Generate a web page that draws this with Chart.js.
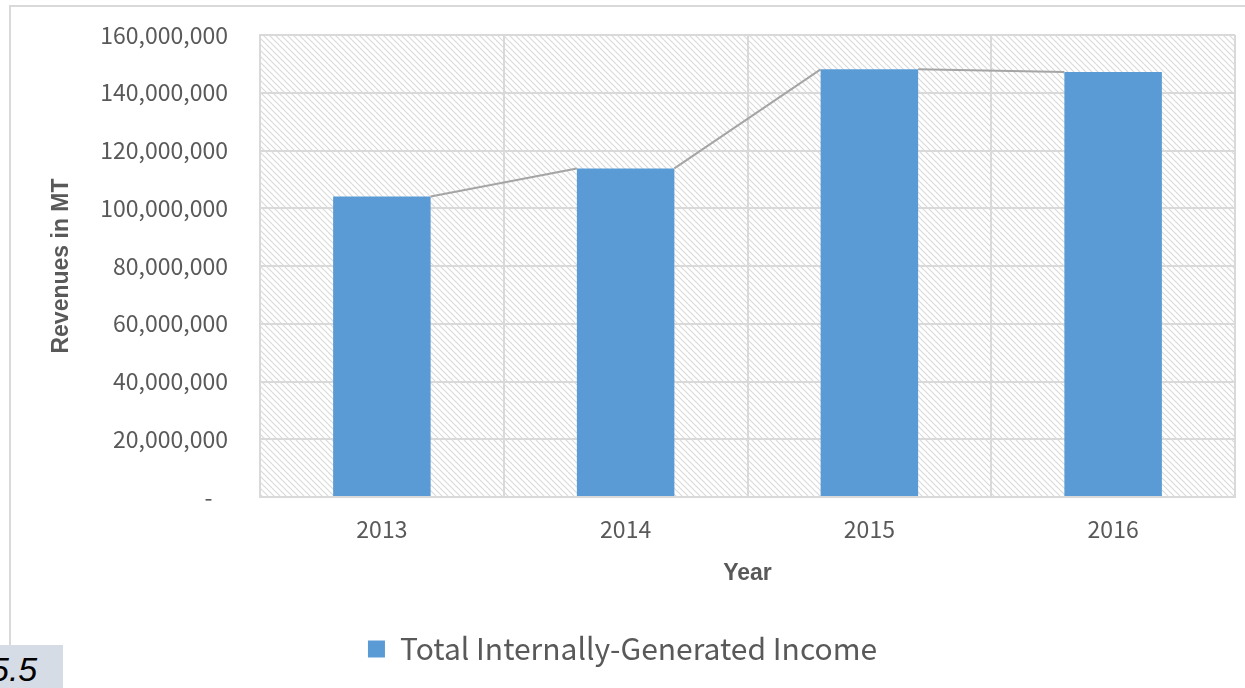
<!DOCTYPE html>
<html>
<head>
<meta charset="utf-8">
<script src="https://cdn.jsdelivr.net/npm/chart.js@4"></script>
<style>
  body { margin: 0; background: #fff; }
  #wrap { position: relative; width: 1245px; height: 688px; overflow: hidden; }
  #frame { position: absolute; left: 9px; top: 5px; width: 1300px; height: 640px;
           border-top: 2px solid #d9d9d9; border-left: 2px solid #d9d9d9; }
  #fig { position: absolute; left: 0; top: 645px; width: 63px; height: 43px; background: #d6dce5; overflow: hidden; }
  #fig span { position: absolute; left: -10px; top: 5px; font: italic 34px "Liberation Sans", Arial, sans-serif; color: #000; }
  canvas { position: absolute; left: 0; top: 0; }
</style>
</head>
<body>
<div id="wrap">
  <div id="frame"></div>
  <div id="fig"><span>5.5</span></div>
  <canvas id="myChart" width="1245" height="688"></canvas>
</div>
<script>
var years = ['2013', '2014', '2015', '2016'];
var income = [104100000, 113800000, 148100000, 147200000];
var seriesName = 'Total Internally-Generated Income';

// diagonal hatch used behind the plot
function hatch() {
    var c = document.createElement('canvas');
    c.width = 6; c.height = 6;
    var g = c.getContext('2d');
    g.strokeStyle = '#dadada';
    g.lineWidth = 1.2;
    g.beginPath();
    g.moveTo(-1, -1); g.lineTo(7, 7);
    g.moveTo(-1, 5); g.lineTo(1, 7);
    g.moveTo(5, -1); g.lineTo(7, 1);
    g.stroke();
    return g.createPattern(c, 'repeat');
}

const plotBg = {
    id: 'plotBg',
    beforeDraw(chart) {
        var a = chart.chartArea, ctx = chart.ctx;
        ctx.save();
        ctx.fillStyle = hatch();
        ctx.fillRect(a.left, a.top, a.right - a.left, a.bottom - a.top);
        ctx.restore();
    }
};

// excel style series lines joining bar tops
const seriesLines = {
    id: 'seriesLines',
    afterDatasetsDraw(chart) {
        var bars = chart.getDatasetMeta(0).data, ctx = chart.ctx;
        ctx.save();
        ctx.strokeStyle = '#a5a5a5';
        ctx.lineWidth = 2;
        ctx.beginPath();
        for (var k = 0; k < bars.length - 1; k++) {
            var a = bars[k], b = bars[k + 1];
            ctx.moveTo(a.x + a.width / 2, a.y);
            ctx.lineTo(b.x - b.width / 2, b.y);
        }
        ctx.stroke();
        ctx.restore();
    }
};

const data = {
    labels: years,
    datasets: [{
        label: seriesName,
        data: income,
        backgroundColor: '#5b9bd5',
        borderWidth: 0,
        barPercentage: 0.4,
        categoryPercentage: 1
    }]
};

const config = {
    type: 'bar',
    data: data,
    plugins: [plotBg, seriesLines],
    options: {
        responsive: false,
        animation: false,
        layout: { padding: { left: 10, right: 10, top: 35, bottom: 14 } },
        plugins: {
            tooltip: { enabled: false },
            legend: {
                position: 'bottom',
                labels: {
                    boxWidth: 17, boxHeight: 17, padding: 10,
                    color: '#595959',
                    font: { family: '"Noto Sans CJK JP", "Noto Sans", sans-serif', size: 30 }
                }
            }
        },
        scales: {
            x: {
                afterFit: function (s) { s.height = 127; },
                grid: { color: '#d9d9d9', lineWidth: 2, drawTicks: false },
                border: { color: '#d9d9d9', width: 2 },
                ticks: {
                    padding: 18, color: '#595959',
                    font: { family: '"Noto Sans CJK JP", "Noto Sans", sans-serif', size: 23 }
                },
                title: {
                    display: true, text: 'Year', color: '#595959',
                    padding: { top: 0, bottom: 37 },
                    font: { family: '"Liberation Sans", Arial, sans-serif', size: 23, weight: 'bold' }
                }
            },
            y: {
                min: 0, max: 160000000,
                afterFit: function (s) { s.width = 250; s.paddingTop = 0; s.paddingBottom = 0; },
                grid: { color: '#d9d9d9', lineWidth: 2, drawTicks: false },
                border: { color: '#d9d9d9', width: 2 },
                ticks: {
                    stepSize: 20000000, padding: 32, color: '#595959',
                    font: { family: '"Noto Sans CJK JP", "Noto Sans", sans-serif', size: 23 },
                    callback: function (v) { return v === 0 ? '-   ' : v.toLocaleString('en-US'); }
                },
                title: {
                    display: true, text: 'Revenues in MT', color: '#595959',
                    padding: { top: 38, bottom: 0 },
                    font: { family: '"Liberation Sans", Arial, sans-serif', size: 23, weight: 'bold' }
                }
            }
        }
    }
};

const myChart = new Chart(document.getElementById('myChart'), config);
</script>
</body>
</html>
